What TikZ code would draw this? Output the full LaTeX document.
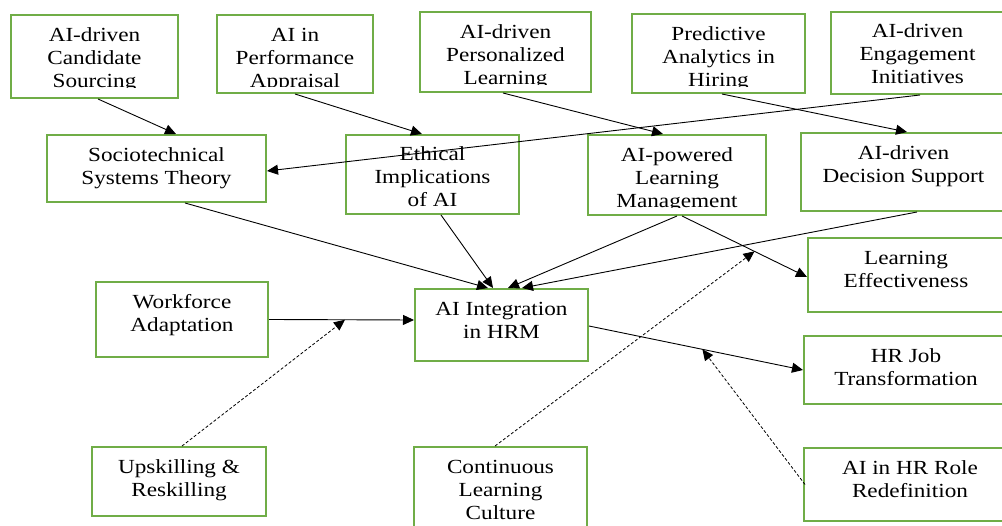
\documentclass[tikz,border=0pt]{standalone}
\usepackage{fontspec}
\setmainfont{Liberation Serif}[FakeStretch=1.16]
\usetikzlibrary{arrows.meta}
\definecolor{boxgreen}{RGB}{112,173,71}
\newcommand\diafont{\fontsize{20}{23}\selectfont}
\begin{document}
\begin{tikzpicture}[x=1pt,y=-1pt,
  box/.style={draw=boxgreen,line width=2pt,rectangle,inner sep=0pt},
  lbl/.style={anchor=north,inner sep=0pt,align=center,font=\diafont,text=black},
  edge/.style={draw=black,line width=0.9pt,-{Triangle[length=11pt,width=10pt]}},
  dashedge/.style={edge,dash pattern=on 3pt off 2pt,line width=0.8pt}]
\useasboundingbox (0,0) rectangle (1002,526);
\clip (0,0) rectangle (1002,526);
\fill[white] (0,0) rectangle (1002,526);

% boxes
\node[box,minimum width=167pt,minimum height=83pt] (cand) at (94.5,56.5) {};
\node[box,minimum width=156pt,minimum height=78pt] (perf) at (295,54) {};
\node[box,minimum width=171pt,minimum height=80pt] (pers) at (505.5,52) {};
\node[box,minimum width=173pt,minimum height=79pt] (pred) at (718.5,53.5) {};
\node[box,minimum width=173pt,minimum height=82pt] (eng) at (917.5,53) {};
\node[box,minimum width=219pt,minimum height=67pt] (socio) at (156.5,168.5) {};
\node[box,minimum width=173pt,minimum height=79pt] (eth) at (432.5,174.5) {};
\node[box,minimum width=178pt,minimum height=80pt] (lms) at (677,175) {};
\node[box,minimum width=205pt,minimum height=78pt] (dec) at (903.5,172) {};
\node[box,minimum width=196pt,minimum height=74pt] (leff) at (906,275) {};
\node[box,minimum width=172pt,minimum height=75pt] (work) at (182,319.5) {};
\node[box,minimum width=173pt,minimum height=72pt] (aiint) at (501.5,325) {};
\node[box,minimum width=204pt,minimum height=68pt] (hrjob) at (906,370) {};
\node[box,minimum width=174pt,minimum height=69pt] (upsk) at (179,481.5) {};
\node[box,minimum width=173pt,minimum height=93pt] (cont) at (500.5,493.5) {};
\node[box,minimum width=212pt,minimum height=73pt] (hrrole) at (910,484.5) {};

% labels (some clipped as in the reference)
\begin{scope}
\clip (11,15) rectangle (178,88);
\node[lbl] (tcand) at (94.5,25.4) {\strut AI-driven\\Candidate\\Sourcing};
\end{scope}
\begin{scope}
\clip (217,15) rectangle (373,87);
\node[lbl] (tperf) at (295,25.4) {\strut AI in\\Performance\\Appraisal};
\end{scope}
\begin{scope}
\clip (420,12) rectangle (591,85);
\node[lbl] (tpers) at (505.5,22.4) {\strut AI-driven\\Personalized\\Learning};
\end{scope}
\begin{scope}
\clip (632,14) rectangle (805,86.5);
\node[lbl] (tpred) at (718.5,24.4) {\strut Predictive\\Analytics in\\Hiring};
\end{scope}
\node[lbl] (teng) at (917.5,21) {\strut AI-driven\\Engagement\\Initiatives};
\node[lbl] (tsocio) at (156.5,145.4) {\strut Sociotechnical\\Systems Theory};
\node[lbl] (teth) at (432.5,144.4) {\strut Ethical\\Implications\\of AI};
\begin{scope}
\clip (588,135) rectangle (766,207.5);
\node[lbl] (tlms) at (677,145.4) {\strut AI-powered\\Learning\\Management};
\end{scope}
\node[lbl] (tdec) at (903.5,143.4) {\strut AI-driven\\Decision Support};
\node[lbl] (tleff) at (906,248.4) {\strut Learning\\Effectiveness};
\node[lbl] (twork) at (182,292) {\strut Workforce\\Adaptation};
\node[lbl] (taiint) at (501.5,299.4) {\strut AI Integration\\in HRM};
\node[lbl] (thrjob) at (906,346) {\strut HR Job\\Transformation};
\node[lbl] (tupsk) at (179,457.4) {\strut Upskilling \&\\Reskilling};
\node[lbl] (tcont) at (500.5,457.4) {\strut Continuous\\Learning\\Culture};
\node[lbl] (thrrole) at (910,458.4) {\strut AI in HR Role\\Redefinition};

% connectors
\draw[edge] ([xshift=3.5pt]cand.south) -- ([xshift=19.5pt]socio.north);
\draw[edge] (perf.south) -- ([xshift=-10.5pt]eth.north);
\draw[edge] ([xshift=-2.5pt]pers.south) -- ([xshift=-14pt]lms.north);
\draw[edge] ([xshift=3.5pt]pred.south) -- ([xshift=3.5pt]dec.north);
\draw[edge] ([xshift=2.5pt]eng.south) -- ([yshift=-2.5pt]socio.east);
\draw[edge] ([xshift=28.5pt]socio.south) -- ([xshift=-13.5pt]aiint.north);
\draw[edge] ([xshift=8.5pt]eth.south) -- ([xshift=-8.5pt]aiint.north);
\draw[edge] (lms.south) -- ([xshift=6.5pt]aiint.north);
\draw[edge] ([xshift=13.5pt]dec.south) -- ([xshift=20.5pt]aiint.north);
\draw[edge] ([xshift=5pt]lms.south) -- coordinate[pos=0.58] (m2) ([yshift=-2pt]leff.west);
\draw[edge] (work.east) -- coordinate[pos=0.524] (m1) ([yshift=5pt]aiint.west);
\draw[edge] ([yshift=-1pt]aiint.east) -- coordinate[pos=0.53] (m3) (hrjob.west);

\draw[dashedge] ([xshift=3pt]upsk.north) -- (m1);
\draw[dashedge] ([xshift=-5.5pt]cont.north) -- (m2);
\draw[dashedge] ([xshift=2pt]hrrole.west) -- (m3);
\end{tikzpicture}
\end{document}
